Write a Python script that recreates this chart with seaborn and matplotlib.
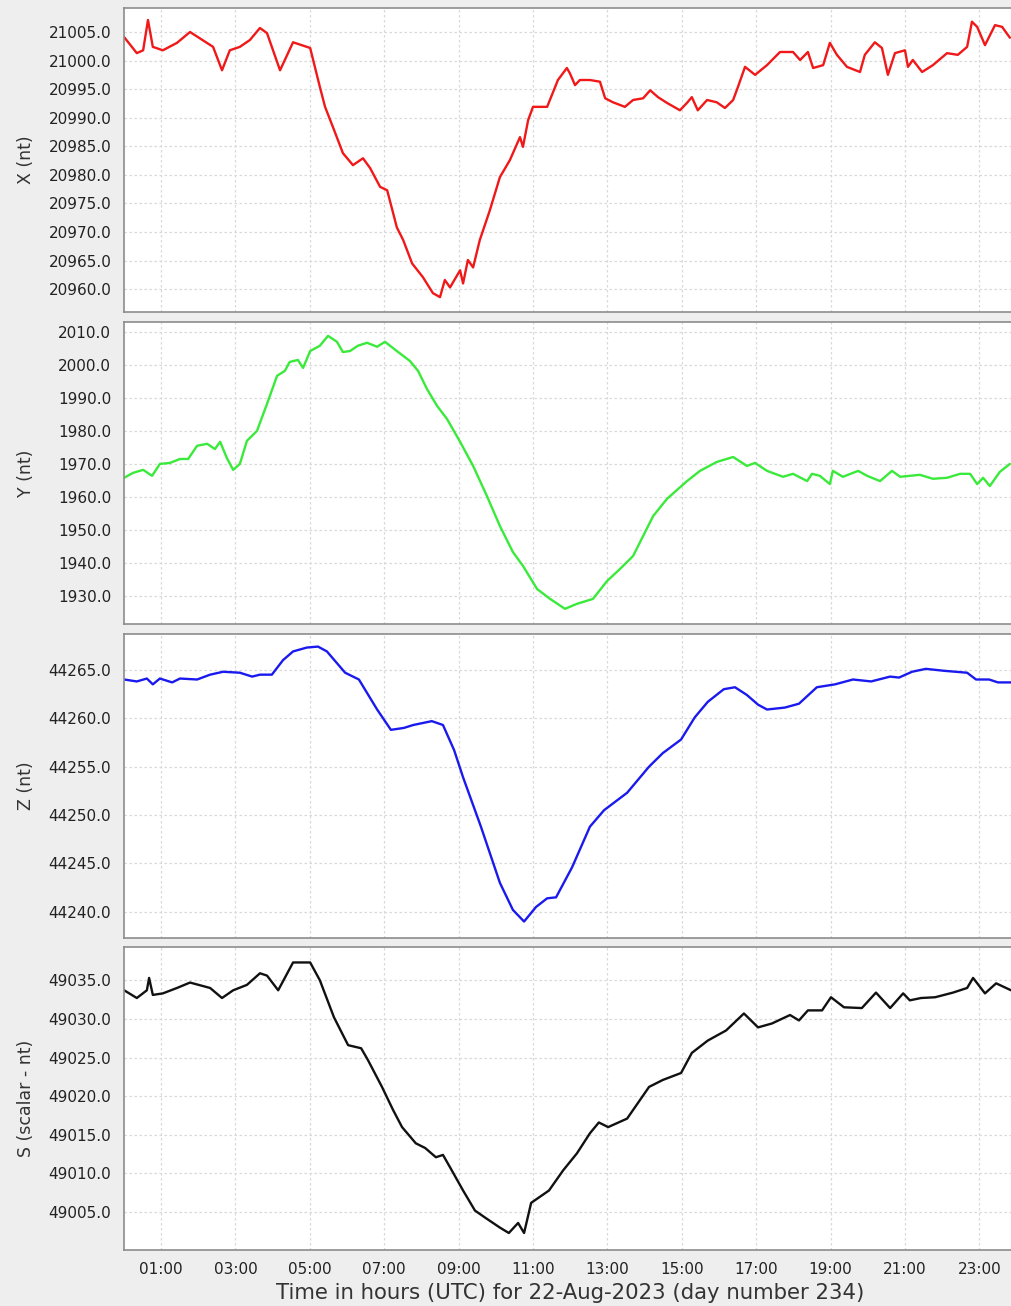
import matplotlib
matplotlib.use("Agg")
import matplotlib.pyplot as plt
import seaborn as sns
import pandas as pd

# --- Magnetometer readings, 22-Aug-2023 (hours UTC, nT) ---
x_hours = [0.01, 0.35, 0.52, 0.65, 0.78, 1.05, 1.43, 1.78, 2.40, 2.64, 2.85, 3.12, 3.39, 3.66,
           3.85, 4.20, 4.55, 4.92, 5.01, 5.27, 5.41, 5.62, 5.89, 6.16, 6.43, 6.62, 6.89, 7.08,
           7.34, 7.51, 7.75, 8.04, 8.31, 8.50, 8.63, 8.77, 9.04, 9.12, 9.25, 9.39, 9.57, 9.84,
           10.11, 10.38, 10.65, 10.73, 10.87, 11.00, 11.38, 11.67, 11.91, 11.99, 12.13, 12.26,
           12.53, 12.80, 12.94, 13.15, 13.47, 13.69, 13.96, 14.15, 14.36, 14.60, 14.95, 15.14,
           15.27, 15.43, 15.68, 15.94, 16.16, 16.38, 16.51, 16.70, 16.97, 17.29, 17.64, 17.99,
           18.18, 18.39, 18.53, 18.80, 18.98, 19.17, 19.44, 19.79, 19.92, 20.19, 20.38, 20.54,
           20.73, 21.00, 21.08, 21.21, 21.46, 21.75, 22.13, 22.42, 22.67, 22.80, 22.94, 23.15,
           23.42, 23.61, 23.82]
x_values = [21004.1, 21001.3, 21001.8, 21007.1, 21002.4, 21001.8, 21003.1, 21005.0, 21002.4,
            20998.3, 21001.8, 21002.4, 21003.6, 21005.7, 21004.8, 20998.3, 21003.2, 21002.4,
            21002.2, 20995.4, 20991.9, 20988.4, 20983.8, 20981.7, 20982.9, 20981.2, 20977.9,
            20977.3, 20970.8, 20968.6, 20964.5, 20962.1, 20959.3, 20958.6, 20961.6, 20960.3,
            20963.3, 20961.0, 20965.1, 20963.8, 20968.6, 20973.8, 20979.6, 20982.6, 20986.6,
            20984.9, 20989.6, 20991.9, 20991.9, 20996.6, 20998.7, 20997.8, 20995.7, 20996.6,
            20996.6, 20996.3, 20993.4, 20992.7, 20991.9, 20993.1, 20993.4, 20994.8, 20993.6,
            20992.6, 20991.3, 20992.6, 20993.6, 20991.3, 20993.1, 20992.7, 20991.7, 20993.1,
            20995.4, 20998.9, 20997.5, 20999.2, 21001.5, 21001.5, 21000.1, 21001.5, 20998.7,
            20999.2, 21003.1, 21001.0, 20998.9, 20998.0, 21001.0, 21003.2, 21002.2, 20997.5,
            21001.3, 21001.8, 20998.9, 21000.1, 20998.0, 20999.2, 21001.3, 21001.0, 21002.4,
            21006.8, 21005.9, 21002.7, 21006.2, 21005.9, 21004.0]

y_hours = [0.01, 0.25, 0.52, 0.76, 0.97, 1.24, 1.51, 1.73, 1.97, 2.24, 2.45, 2.59, 2.77, 2.94,
           3.12, 3.31, 3.58, 3.85, 4.12, 4.33, 4.46, 4.68, 4.82, 5.01, 5.27, 5.49, 5.73, 5.89,
           6.08, 6.29, 6.54, 6.81, 7.02, 7.34, 7.69, 7.91, 8.15, 8.42, 8.69, 9.04, 9.39, 9.76,
           10.11, 10.46, 10.73, 11.11, 11.46, 11.86, 12.18, 12.61, 12.99, 13.34, 13.69, 14.23,
           14.60, 15.14, 15.49, 15.94, 16.38, 16.75, 16.97, 17.29, 17.72, 17.99, 18.37, 18.50,
           18.71, 18.98, 19.06, 19.33, 19.74, 19.98, 20.33, 20.65, 20.87, 21.40, 21.75, 22.13,
           22.48, 22.75, 22.94, 23.10, 23.28, 23.55, 23.82]
y_values = [1965.8, 1967.3, 1968.2, 1966.4, 1970.0, 1970.3, 1971.5, 1971.5, 1975.5, 1976.1,
            1974.5, 1976.7, 1971.8, 1968.2, 1970.0, 1977.0, 1980.0, 1988.2, 1996.7, 1998.2,
            2000.9, 2001.5, 1999.1, 2004.2, 2005.8, 2008.8, 2007.0, 2003.9, 2004.2, 2005.8,
            2006.7, 2005.5, 2007.0, 2004.2, 2001.2, 1998.2, 1992.7, 1987.6, 1983.6, 1976.7,
            1969.4, 1960.3, 1951.2, 1943.3, 1939.1, 1932.1, 1929.1, 1926.1, 1927.6, 1929.1,
            1934.5, 1938.2, 1942.1, 1954.2, 1959.4, 1964.8, 1967.9, 1970.6, 1972.1, 1969.4,
            1970.3, 1967.9, 1966.1, 1967.0, 1964.8, 1967.0, 1966.4, 1963.9, 1967.9, 1966.1,
            1967.9, 1966.4, 1964.8, 1967.9, 1966.1, 1966.7, 1965.5, 1965.8, 1967.0, 1967.0,
            1963.9, 1965.8, 1963.3, 1967.6, 1970.0]

z_hours = [0.01, 0.35, 0.62, 0.78, 0.97, 1.30, 1.51, 1.97, 2.32, 2.67, 3.12, 3.45, 3.66, 3.98,
           4.28, 4.55, 4.92, 5.22, 5.46, 5.95, 6.32, 6.81, 7.18, 7.53, 7.78, 8.28, 8.58, 8.88,
           9.12, 9.60, 10.11, 10.46, 10.76, 11.08, 11.38, 11.62, 12.05, 12.53, 12.91, 13.53,
           14.12, 14.49, 14.98, 15.35, 15.70, 16.13, 16.43, 16.75, 17.05, 17.29, 17.77, 18.15,
           18.63, 19.12, 19.60, 20.09, 20.60, 20.84, 21.19, 21.56, 22.05, 22.67, 22.91, 23.26,
           23.50, 23.85]
z_values = [44264.0, 44263.8, 44264.1, 44263.5, 44264.1, 44263.7, 44264.1, 44264.0, 44264.5,
            44264.8, 44264.7, 44264.3, 44264.5, 44264.5, 44266.0, 44266.9, 44267.3, 44267.4,
            44266.9, 44264.7, 44264.0, 44260.9, 44258.8, 44259.0, 44259.3, 44259.7, 44259.3,
            44256.7, 44253.9, 44248.8, 44243.0, 44240.2, 44239.0, 44240.5, 44241.4, 44241.5,
            44244.6, 44248.8, 44250.5, 44252.3, 44255.0, 44256.4, 44257.8, 44260.1, 44261.7,
            44263.0, 44263.2, 44262.4, 44261.4, 44260.9, 44261.1, 44261.5, 44263.2, 44263.5,
            44264.0, 44263.8, 44264.3, 44264.2, 44264.8, 44265.1, 44264.9, 44264.7, 44264.0,
            44264.0, 44263.7, 44263.7]

s_hours = [0.01, 0.35, 0.62, 0.68, 0.78, 1.05, 1.43, 1.78, 2.32, 2.64, 2.94, 3.31, 3.66, 3.85,
           4.15, 4.55, 5.01, 5.27, 5.65, 6.03, 6.38, 6.56, 6.94, 7.24, 7.48, 7.85, 8.10, 8.39,
           8.58, 8.77, 9.12, 9.44, 9.74, 10.11, 10.35, 10.60, 10.76, 10.95, 11.43, 11.81,
           12.18, 12.53, 12.77, 13.02, 13.53, 14.12, 14.49, 14.98, 15.27, 15.70, 16.19, 16.67,
           17.05, 17.42, 17.91, 18.15, 18.39, 18.77, 19.01, 19.36, 19.84, 20.22, 20.60, 20.95,
           21.13, 21.43, 21.81, 22.29, 22.67, 22.83, 23.15, 23.45, 23.85]
s_values = [49033.7, 49032.7, 49033.7, 49035.3, 49033.1, 49033.3, 49034.0, 49034.7, 49034.0,
            49032.7, 49033.7, 49034.4, 49035.9, 49035.6, 49033.7, 49037.3, 49037.3, 49035.0,
            49030.2, 49026.6, 49026.2, 49024.7, 49021.2, 49018.2, 49016.0, 49013.9, 49013.3,
            49012.1, 49012.4, 49010.8, 49007.8, 49005.2, 49004.2, 49003.0, 49002.3, 49003.6,
            49002.3, 49006.2, 49007.8, 49010.4, 49012.6, 49015.2, 49016.6, 49016.0, 49017.1,
            49021.2, 49022.1, 49023.0, 49025.6, 49027.2, 49028.5, 49030.7, 49028.9, 49029.4,
            49030.5, 49029.8, 49031.1, 49031.1, 49032.8, 49031.5, 49031.4, 49033.4, 49031.4,
            49033.3, 49032.4, 49032.7, 49032.8, 49033.4, 49034.0, 49035.3, 49033.3, 49034.6,
            49033.7]

panel_labels = ["X (nt)", "Y (nt)", "Z (nt)", "S (scalar - nt)"]
tick_hours = list(range(1, 24, 2))
tick_labels = [f"{h:02d}:00" for h in tick_hours]
xlabel_text = "Time in hours (UTC) for 22-Aug-2023 (day number 234)"

panels = [
    dict(hours=x_hours, values=x_values, color="#f01818", ylim=(20956.0, 21009.2),
         yticks=list(range(20960, 21006, 5)), rect=(8, 312)),
    dict(hours=y_hours, values=y_values, color="#3aea3a", ylim=(1921.5, 2013.0),
         yticks=list(range(1930, 2011, 10)), rect=(322, 624)),
    dict(hours=z_hours, values=z_values, color="#1a1aee", ylim=(44237.3, 44268.7),
         yticks=list(range(44240, 44266, 5)), rect=(634, 938)),
    dict(hours=s_hours, values=s_values, color="#111111", ylim=(49000.1, 49039.3),
         yticks=list(range(49005, 49036, 5)), rect=(947, 1250)),
]

sns.set_theme(style="whitegrid")
plt.rcParams["font.family"] = ["DejaVu Sans"]

W, H = 1011, 1306
fig = plt.figure(figsize=(W / 100, H / 100), dpi=100)
fig.patch.set_facecolor("#eeeeee")

left_px, px_per_hour = 123.8, 37.2
for i, (p, label) in enumerate(zip(panels, panel_labels)):
    top, bottom = p["rect"]
    ax = fig.add_axes([left_px / W, 1 - bottom / H, 24 * px_per_hour / W, (bottom - top) / H])
    df = pd.DataFrame({"hour": p["hours"], "value": p["values"]})
    sns.lineplot(data=df, x="hour", y="value", ax=ax, color=p["color"], linewidth=1.7,
                 estimator=None, sort=False)
    ax.set_facecolor("white")
    ax.set_xlim(0, 24)
    ax.set_ylim(*p["ylim"])
    ax.set_yticks(p["yticks"])
    ax.set_yticklabels([f"{v:.1f}" for v in p["yticks"]])
    ax.set_xticks(tick_hours)
    ax.grid(True, color="#d9d9d9", linestyle=(0, (2, 2)), linewidth=0.9)
    ax.tick_params(axis="both", length=0, labelsize=11, labelcolor="#222222", pad=9)
    for sp in ax.spines.values():
        sp.set_color("#8c8c8c")
        sp.set_linewidth(1.2)
    ax.set_ylabel(label, fontsize=12.5, color="#333333")
    ax.yaxis.set_label_coords(-0.1, 0.5)
    ax.set_xlabel("")
    if i == len(panels) - 1:
        ax.set_xticklabels(tick_labels)
    else:
        ax.set_xticklabels([])

fig.text(0.564, 1 - 1293 / H, xlabel_text, ha="center", va="center",
         fontsize=15.3, color="#333333")

fig.savefig("out.png", dpi=100, facecolor=fig.get_facecolor())
